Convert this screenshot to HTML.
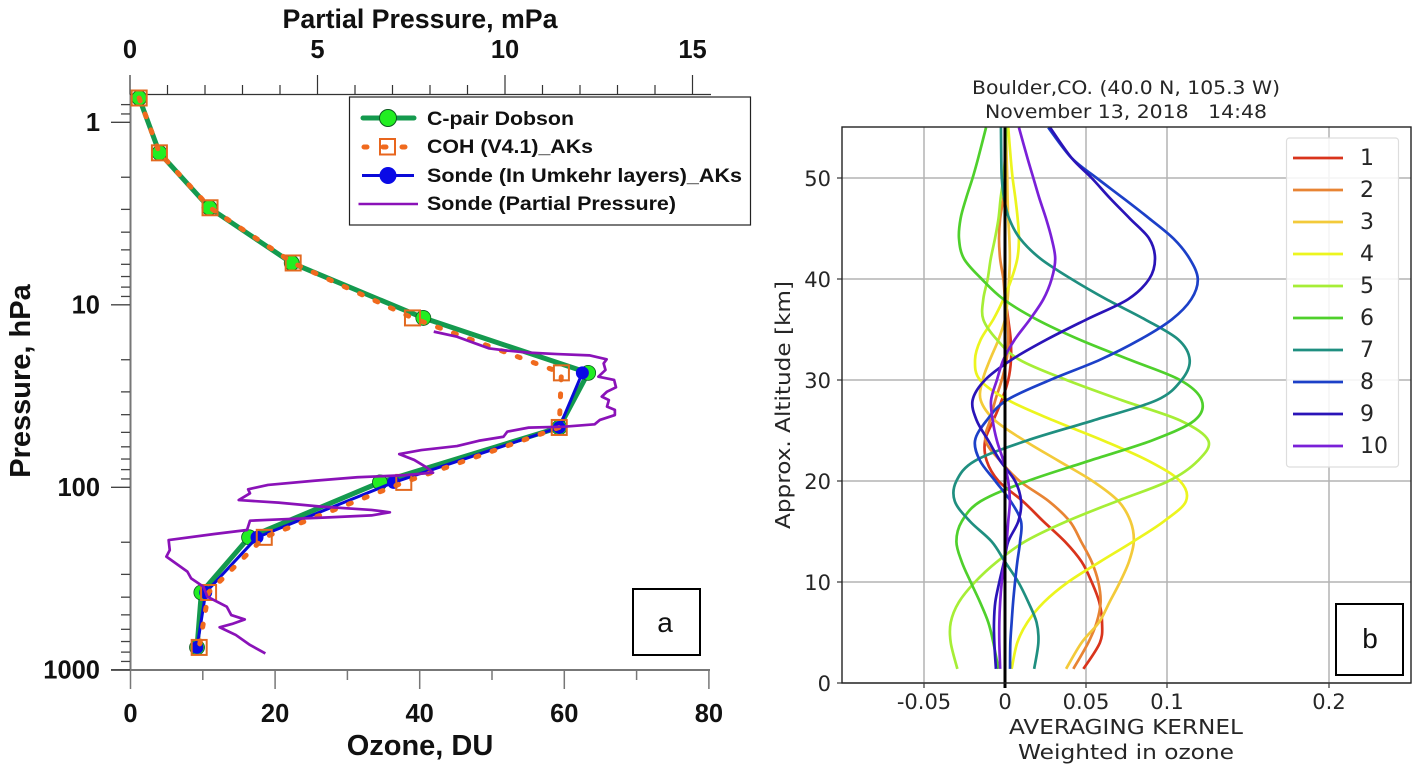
<!DOCTYPE html>
<html>
<head>
<meta charset="utf-8">
<title>Ozone profile and averaging kernels</title>
<style>
html,body{margin:0;padding:0;background:#fff;}
svg{display:block;}
.b{font-family:"Liberation Sans",sans-serif;font-weight:bold;fill:#111;}
.d{font-family:"DejaVu Sans",sans-serif;fill:#262626;}
</style>
</head>
<body>
<svg id="chart" xmlns="http://www.w3.org/2000/svg" width="1412" height="766" viewBox="0 0 1412 766">
  <rect x="0" y="0" width="1412" height="766" fill="#fff"/>
  <g id="left"></g>
  <g id="right"></g>

  <text class="b" x="420" y="28" font-size="26.500" text-anchor="middle" textLength="275" lengthAdjust="spacingAndGlyphs">Partial Pressure, mPa</text>
  <text class="b" x="420" y="755" font-size="29" text-anchor="middle">Ozone, DU</text>
  <text class="b" transform="translate(30,381) rotate(-90)" font-size="29" text-anchor="middle">Pressure, hPa</text>

  <g>
    <rect x="349.500" y="97" width="401" height="128" fill="#fff" stroke="#222" stroke-width="1.2"/>
    <line x1="363" y1="118" x2="414" y2="118" stroke="#149a4e" stroke-width="5" stroke-linecap="round"/>
    <circle cx="388" cy="118" r="8.500" fill="#22ee22" stroke="#0b5a20"/>
    <text class="b" x="427" y="125" font-size="19.500" textLength="147" lengthAdjust="spacingAndGlyphs">C-pair Dobson</text>
    <line x1="364" y1="147" x2="406" y2="147" stroke="#f06a1e" stroke-width="5" stroke-dasharray="3 16" stroke-linecap="round"/>
    <rect x="380" y="139" width="15" height="15.500" fill="none" stroke="#e8661e" stroke-width="2"/>
    <text class="b" x="427" y="153" font-size="19.500" textLength="166" lengthAdjust="spacingAndGlyphs">COH (V4.1)_AKs</text>
    <line x1="362" y1="175.500" x2="414" y2="175.500" stroke="#0a0ad8" stroke-width="3"/>
    <circle cx="388" cy="175.500" r="8.500" fill="#0a0ae6"/>
    <text class="b" x="427" y="182" font-size="19.500" textLength="315" lengthAdjust="spacingAndGlyphs">Sonde (In Umkehr layers)_AKs</text>
    <line x1="358.500" y1="204" x2="418" y2="204" stroke="#8a12b8" stroke-width="2.500"/>
    <text class="b" x="427" y="210" font-size="19.500" textLength="249" lengthAdjust="spacingAndGlyphs">Sonde (Partial Pressure)</text>
  </g>
  <rect x="633" y="589" width="67" height="66" fill="#fff" stroke="#000" stroke-width="2"/>
  <text x="665" y="632" font-family="'Liberation Sans',sans-serif" font-size="28" text-anchor="middle" fill="#111">a</text>

  <text class="d" x="1126" y="94" font-size="18.300" text-anchor="middle" textLength="308" lengthAdjust="spacingAndGlyphs">Boulder,CO. (40.0 N, 105.3 W)</text>
  <text class="d" x="1126" y="118" font-size="18.300" text-anchor="middle" xml:space="preserve" textLength="282" lengthAdjust="spacingAndGlyphs">November 13, 2018   14:48</text>
  <text class="d" x="1126" y="734" font-size="20.500" text-anchor="middle" textLength="234" lengthAdjust="spacingAndGlyphs">AVERAGING KERNEL</text>
  <text class="d" x="1126" y="759" font-size="20.500" text-anchor="middle" textLength="216" lengthAdjust="spacingAndGlyphs">Weighted in ozone</text>
  <text class="d" transform="translate(790,405) rotate(-90)" font-size="20" text-anchor="middle" textLength="248" lengthAdjust="spacingAndGlyphs">Approx. Altitude [km]</text>
</svg>

<script>
// ---------- Left chart data ----------
var ozoneTicks = [0, 20, 40, 60, 80];
var ozoneMinorTicks = [10, 30, 50, 70];
var partialTicks = [0, 5, 10, 15];
var partialMinorTicks = [1, 2, 3, 4, 6, 7, 8, 9, 11, 12, 13, 14];
var pressureTicks = [1, 10, 100, 1000];
var pressureMinorTicks = [0.8, 0.9, 2, 3, 4, 5, 6, 7, 8, 9, 20, 30, 40, 50, 60, 70, 80, 90, 200, 300, 400, 500, 600, 700, 800, 900];
var layerPressure = [0.736, 1.47, 2.94, 5.9, 11.8, 23.6, 47, 94, 188, 377, 754];
var dobsonOzone = [1.2, 4, 10.9, 22.3, 40.5, 63.3, 59.3, 34.5, 16.4, 9.8, 9.2];
var cohOzone = [1.2, 4, 11, 22.5, 39, 59.6, 59.3, 37.8, 18.5, 10.8, 9.5];
var sondeLayerPressure = [23.6, 47, 94, 188, 377, 754];
var sondeOzone = [62.5, 59.3, 36.4, 17.5, 10.4, 9.2];
var sondePartial = [8.10,8.72,9.20,9.58,10.06,10.63,11.39,12.25,12.71,12.63,12.68,12.49,12.91,12.96,12.72,12.58,12.77,12.72,12.93,12.93,12.53,12.39,11.58,10.63,10.06,9.96,9.30,8.72,7.77,7.18,7.58,7.91,8.08,7.30,6.06,4.91,3.68,3.15,3.20,2.90,3.96,5.10,6.44,6.93,6.44,5.30,3.96,3.20,3.12,2.25,1.03,1.06,0.97,1.53,1.63,1.96,2.06,2.58,2.70,3.06,2.72,2.39,2.82,3.20,3.61];
var sondeLogPressure = [1.147,1.175,1.211,1.239,1.251,1.262,1.270,1.277,1.299,1.321,1.357,1.394,1.412,1.452,1.476,1.503,1.522,1.558,1.576,1.604,1.631,1.655,1.668,1.673,1.695,1.723,1.745,1.774,1.796,1.818,1.850,1.891,1.920,1.934,1.945,1.964,1.987,2.011,2.033,2.070,2.084,2.106,2.124,2.137,2.154,2.165,2.176,2.183,2.234,2.256,2.289,2.344,2.380,2.462,2.499,2.545,2.599,2.654,2.700,2.724,2.749,2.767,2.809,2.864,2.910];

// ---------- Right chart data ----------
var kernelXTicks = [-0.05, 0, 0.05, 0.1, 0.2];
var kernelXTickLabels = ["-0.05", "0", "0.05", "0.1", "0.2"];
var kernelYTicks = [0, 10, 20, 30, 40, 50];
var kernelAltitude = [1.4,4,6,8,10,12,14,16,18,20,22,24,26,28,30,32,34,36,38,40,42,44,46,48,50,52,55];
var kernelNames = ["1","2","3","4","5","6","7","8","9","10"];
var kernel1 = [.0484,.0586,.0599,.0582,.0535,.0473,.037,.0237,.011,-.004,-.0113,-.0123,-.0072,-.002,.002,.0037,.0035,.002,.0004,0,0,0,0,0,0,0,0];
var kernel2 = [.0422,.0514,.0566,.059,.0576,.0535,.047,.040,.027,.009,-.003,-.012,-.0093,-.006,-.002,.001,.002,.0016,0,-.001,-.003,-.0037,-.003,-.001,0,0,0];
var kernel3 = [.0377,.0473,.058,.0645,.071,.0765,.0795,.0775,.070,.054,.033,.012,-.0062,-.015,-.0138,-.0093,-.004,0,.0016,.0025,.003,.0027,.002,.0016,.0014,.001,.0006];
var kernel4 = [.0041,.0076,.0138,.024,.039,.0586,.079,.098,.1117,.108,.0885,.0607,.0298,.002,-.0154,-.0185,-.015,-.0072,-.001,.004,.0076,.0086,.0078,.0064,.0047,.0035,.002];
var kernel5 = [-.0294,-.0335,-.0335,-.0285,-.0185,-.005,.0123,.038,.069,.101,.119,.1255,.108,.072,.038,.009,-.005,-.0134,-.0134,-.0107,-.0088,-.0062,-.004,-.0027,-.001,0,.001];
var kernel6 = [-.0041,-.0072,-.0103,-.0154,-.0212,-.0267,-.030,-.0267,-.015,.014,.052,.0905,.117,.1214,.108,.077,.046,.0195,-.001,-.0144,-.0253,-.0284,-.0274,-.024,-.020,-.0165,-.0117];
var kernel7 = [.018,.0206,.0195,.0144,.0082,0,-.0082,-.0216,-.031,-.030,-.0185,.0134,.0545,.0936,.109,.114,.107,.0864,.0625,.041,.022,.0093,.0025,-.0006,-.002,-.0023,-.0025];
var kernel8 = [.0031,.0033,.0041,.005,.0062,.0076,.0093,.0099,.0035,-.006,-.0154,-.0185,-.0113,.001,.0278,.0586,.0833,.103,.115,.119,.114,.104,.089,.073,.0566,.041,.0267];
var kernel9 = [-.0056,-.0066,-.0068,-.006,-.0035,-.0006,.002,.0082,.0099,.0062,-.003,-.0103,-.0175,-.02,-.0123,.004,.0257,.0504,.076,.089,.0926,.089,.077,.0648,.0535,.041,.0278];
var kernel10 = [-.003,-.0035,-.0035,-.003,-.002,-.0004,.001,.002,.003,.002,-.001,-.005,-.0076,-.0086,-.005,-.001,.006,.0154,.0237,.0288,.031,.0288,.0253,.0212,.0175,.0138,.0086];
var kernelSeries = [kernel1, kernel2, kernel3, kernel4, kernel5, kernel6, kernel7, kernel8, kernel9, kernel10];
var kernelColors = ["#d9341c","#e88434","#f3ca3a","#ecf51e","#a6ee36","#4fd02c","#1f8f80","#1c40c8","#2a14b8","#7a20d8"];

// ---------- Axis functions ----------
function xOzone(v){ return 130.5 + v * 7.23; }
function xPartial(v){ return 130 + v * 37.5; }
function yPressure(p){ return 122.3 + Math.log10(p) * 182.5; }
function xKernel(v){ return 1005 + v * 1620; }
function yAlt(a){ return 683 - a * 10.1; }

var NS = "http://www.w3.org/2000/svg";
function mk(parent, tag, attrs){
  var el = document.createElementNS(NS, tag);
  for (var k in attrs) el.setAttribute(k, attrs[k]);
  parent.appendChild(el);
  return el;
}
function poly(xs, ys){
  return xs.map(function(x, i){ return (i ? "L" : "M") + x.toFixed(2) + " " + ys[i].toFixed(2); }).join(" ");
}
function smooth(xs, ys){
  var d = "M" + xs[0].toFixed(2) + " " + ys[0].toFixed(2);
  for (var i = 0; i < xs.length - 1; i++){
    var a = Math.max(i - 1, 0), b = Math.min(i + 2, xs.length - 1);
    d += " C" + (xs[i] + (xs[i+1] - xs[a]) / 6).toFixed(2) + " " + (ys[i] + (ys[i+1] - ys[a]) / 6).toFixed(2) +
         " " + (xs[i+1] - (xs[b] - xs[i]) / 6).toFixed(2) + " " + (ys[i+1] - (ys[b] - ys[i]) / 6).toFixed(2) +
         " " + xs[i+1].toFixed(2) + " " + ys[i+1].toFixed(2);
  }
  return d;
}

var L = document.getElementById("left");
var R = document.getElementById("right");
var el;

// ---------- Left chart axes ----------
el = mk(L, "line", {x1:130.5, y1:94.5, x2:130.5, y2:670, stroke:"#777", "stroke-width":2});


el = mk(L, "line", {x1:111, y1:670, x2:710, y2:670, stroke:"#777", "stroke-width":2});


el = mk(L, "line", {x1:130, y1:94.5, x2:711, y2:94.5, stroke:"#333", "stroke-width":1.2});



ozoneTicks.forEach(function(v){
  var t = mk(L, "line", {x1:xOzone(v), y1:670, x2:xOzone(v), y2:689, stroke:"#777", "stroke-width":1.5});
  
  
  var s = mk(L, "text", {x:xOzone(v), y:722, "font-size":25.5, "text-anchor":"middle", "class":"b"});
  s.textContent = v;
  
  
});
ozoneMinorTicks.forEach(function(v){
  var t = mk(L, "line", {x1:xOzone(v), y1:670, x2:xOzone(v), y2:680, stroke:"#777", "stroke-width":1.5});
  
  
});
partialTicks.forEach(function(v){
  var t = mk(L, "line", {x1:xPartial(v), y1:94.5, x2:xPartial(v), y2:75, stroke:"#333", "stroke-width":1.2});
  
  
  var s = mk(L, "text", {x:xPartial(v), y:58, "font-size":25.5, "text-anchor":"middle", "class":"b"});
  s.textContent = v;
  
  
});
partialMinorTicks.forEach(function(v){
  var t = mk(L, "line", {x1:xPartial(v), y1:94.5, x2:xPartial(v), y2:85, stroke:"#333", "stroke-width":1.2});
  
  
});
pressureTicks.forEach(function(v){
  var t = mk(L, "line", {x1:111, y1:yPressure(v), x2:130, y2:yPressure(v), stroke:"#444", "stroke-width":1.3});
  
  
  var s = mk(L, "text", {x:100, y:yPressure(v) + 8.5, "font-size":25.5, "text-anchor":"end", "class":"b"});
  s.textContent = v;
  
  
});
pressureMinorTicks.forEach(function(v){
  var t = mk(L, "line", {x1:121, y1:yPressure(v), x2:130, y2:yPressure(v), stroke:"#444", "stroke-width":1.3});
  
  
});

// ---------- Left chart series ----------
var dobsonX = dobsonOzone.map(xOzone), dobsonY = layerPressure.map(yPressure);
var cohX = cohOzone.map(xOzone), cohY = layerPressure.map(yPressure);
var sondeX = sondeOzone.map(xOzone), sondeY = sondeLayerPressure.map(yPressure);

el = mk(L, "path", {d:poly(dobsonX, dobsonY), fill:"none", stroke:"#149a4e", "stroke-width":5});


dobsonX.forEach(function(x, j){
  var m = mk(L, "circle", {cx:x, cy:dobsonY[j], r:7.5, fill:"#22ee22", stroke:"#0b5a20", "stroke-width":0.8});
  
  
});
el = mk(L, "path", {d:poly(sondeX, sondeY), fill:"none", stroke:"#0a0ad8", "stroke-width":3});


sondeX.forEach(function(x, j){
  var m = mk(L, "circle", {cx:x, cy:sondeY[j], r:6.5, fill:"#0a0ae6"});
  
  
});
el = mk(L, "path", {d:poly(cohX, cohY), fill:"none", stroke:"#f06a1e", "stroke-width":5, "stroke-dasharray":"3 14", "stroke-linecap":"round"});


cohX.forEach(function(x, j){
  var m = mk(L, "rect", {x:x - 7.5, y:cohY[j] - 7.5, width:15, height:15, fill:"none", stroke:"#e2691f", "stroke-width":2});
  
  
});
el = mk(L, "path", {d:poly(sondePartial.map(xPartial), sondeLogPressure.map(function(l){ return yPressure(Math.pow(10, l)); })), fill:"none", stroke:"#8a12b8", "stroke-width":2.7, "stroke-linejoin":"round"});



// ---------- Right chart axes ----------
kernelXTicks.forEach(function(v, j){
  var g = mk(R, "line", {x1:xKernel(v), y1:127, x2:xKernel(v), y2:683, stroke:"#b4b4b4", "stroke-width":1.5});
  
  
  var t = mk(R, "line", {x1:xKernel(v), y1:683, x2:xKernel(v), y2:688, stroke:"#333", "stroke-width":1.2});
  
  
  var s = mk(R, "text", {x:xKernel(v), y:709, "font-size":21, "text-anchor":"middle", "class":"d"});
  s.textContent = kernelXTickLabels[j];
  
  
});
kernelYTicks.forEach(function(v){
  var g = mk(R, "line", {x1:842, y1:yAlt(v), x2:1411, y2:yAlt(v), stroke:"#b4b4b4", "stroke-width":1.5});
  
  
  var t = mk(R, "line", {x1:837, y1:yAlt(v), x2:842, y2:yAlt(v), stroke:"#333", "stroke-width":1.2});
  
  
  var s = mk(R, "text", {x:831, y:yAlt(v) + 8, "font-size":21, "text-anchor":"end", "class":"d"});
  s.textContent = v;
  
  
});

// ---------- Right chart curves ----------
var kernelY = kernelAltitude.map(yAlt);
kernelSeries.forEach(function(vals, j){
  var c = mk(R, "path", {d:smooth(vals.map(xKernel), kernelY), fill:"none", stroke:kernelColors[j], "stroke-width":2.7});
  
  
});
el = mk(R, "line", {x1:xKernel(0), y1:yAlt(55), x2:xKernel(0), y2:688, stroke:"#000", "stroke-width":3});



el = mk(R, "rect", {x:842, y:127, width:569, height:556, fill:"none", stroke:"#222", "stroke-width":1.4});



// ---------- Right legend ----------
el = mk(R, "rect", {x:1286.5, y:138, width:112, height:329, rx:3, fill:"#fff", "fill-opacity":0.85, stroke:"#ddd", "stroke-width":1.2});


kernelNames.forEach(function(n, j){
  var y = 158 + j * 32;
  var ln = mk(R, "line", {x1:1293, y1:y, x2:1343, y2:y, stroke:kernelColors[j], "stroke-width":2.8});
  
  
  var s = mk(R, "text", {x:1360, y:y + 7, "font-size":22, "class":"d"});
  s.textContent = n;
  
  
});

// ---------- Panel b ----------
el = mk(R, "rect", {x:1336, y:604, width:67, height:71, fill:"#fff", stroke:"#000", "stroke-width":2});


el = mk(R, "text", {x:1370, y:648, "font-size":28, "text-anchor":"middle", fill:"#111", "font-family":"'Liberation Sans',sans-serif"});
el.textContent = "b";


</script>
</body>
</html>
